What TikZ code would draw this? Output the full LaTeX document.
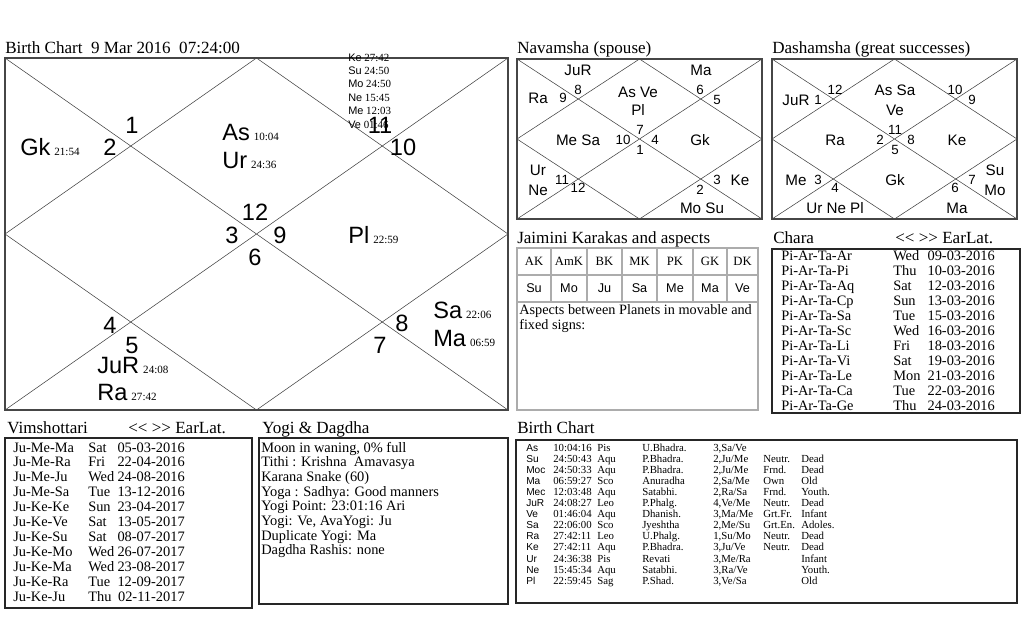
\documentclass[tikz,border=0pt]{standalone}
\usepackage{fontspec}
\setmainfont{Liberation Serif}
\newfontfamily\arialfont{Liberation Sans}
\usetikzlibrary{positioning}

\newcommand{\bigpl}[2]{{\fontsize{17.7}{18}\arialfont #1}\hspace{3pt}{\fontsize{8.3}{9}\selectfont #2}}
\newcommand{\earlat}{\textless\kern0pt\textless\ \textgreater\kern0pt\textgreater\ EarLat.}

\begin{document}
\begin{tikzpicture}[
    x=0.75pt, y=-0.75pt,
    frame/.style={draw=gray!55!black, line width=1.5pt},
    panel/.style={draw=gray!30!black, line width=0.9pt},
    cellline/.style={draw=gray!65, line width=0.9pt},
    chartline/.style={draw=black!75, line width=0.4pt},
    title/.style={anchor=base west, inner sep=0pt, font=\fontsize{12.8}{14}\selectfont},
    housenum/.style={inner sep=0pt, font=\fontsize{17.7}{18}\arialfont},
    planet/.style={anchor=base west, inner sep=0pt},
    stackpl/.style={anchor=base west, inner sep=0pt, font=\fontsize{8.2}{9}\selectfont},
    divtext/.style={inner sep=0pt, font=\fontsize{11.4}{12}\arialfont},
    divnum/.style={inner sep=0pt, font=\fontsize{10}{11}\arialfont},
    listtext/.style={anchor=base west, inner sep=0pt, font=\fontsize{10.8}{12}\selectfont},
    tabletext/.style={anchor=base west, inner sep=0pt, font=\fontsize{8.1}{9}\selectfont},
    tablename/.style={anchor=base west, inner sep=0pt, font=\fontsize{7.6}{8}\arialfont}
  ]
  \fill[white] (0,0) rectangle (1024,640);
  \useasboundingbox (0,0) rectangle (1024,640);

  % Titles
  \node[title] (rasi-title) at (5,53) {Birth Chart\ \ 9 Mar 2016\ \ 07:24:00};
  \node[title] (nav-title) at (517,53) {Navamsha (spouse)};
  \node[title] (das-title) at (772,53) {Dashamsha (great successes)};
  \node[title] (jai-title) at (517,243) {Jaimini Karakas and aspects};
  \node[title] (chara-title) at (773,243) {Chara};
  \node[title] (chara-nav) at (895,243) {\earlat};
  \node[title] (vim-title) at (7,433) {Vimshottari};
  \node[title] (vim-nav) at (128,433) {\earlat};
  \node[title] (yogi-title) at (262,433) {Yogi \& Dagdha};
  \node[title] (tab-title) at (517,433) {Birth Chart};

  % Chart grids
  \foreach \c/\xa/\ya/\xb/\yb in {rasi/5/58/508/410, nav/517/59/762/219, das/772/59/1017/219} {
    \coordinate (\c-nw) at (\xa,\ya);
    \coordinate (\c-ne) at (\xb,\ya);
    \coordinate (\c-se) at (\xb,\yb);
    \coordinate (\c-sw) at (\xa,\yb);
    \coordinate (\c-n) at ({(\xa+\xb)/2},\ya);
    \coordinate (\c-e) at (\xb,{(\ya+\yb)/2});
    \coordinate (\c-s) at ({(\xa+\xb)/2},\yb);
    \coordinate (\c-w) at (\xa,{(\ya+\yb)/2});
    \draw[chartline] (\c-nw) -- (\c-se) (\c-ne) -- (\c-sw);
    \draw[chartline] (\c-n) -- (\c-e) -- (\c-s) -- (\c-w) -- cycle;
    \draw[frame] (\c-nw) rectangle (\c-se);
  }

  % Rasi chart
  \foreach \h/\px/\py in {1/132/125, 2/110/147, 3/232/235, 4/110/325, 5/132/345, 6/255/257,
      7/380/345, 8/402/323, 9/280/235, 10/403/147, 11/380/125, 12/255/212}
    \node[housenum] (rasi-h\h) at (\px,\py) {\h};
  \node[planet] (rasi-gk) at (20,155) {\bigpl{Gk}{21:54}};
  \node[planet] (rasi-as) at (222,140) {\bigpl{As}{10:04}};
  \node[planet] (rasi-ur) at (222,168) {\bigpl{Ur}{24:36}};
  \node[planet] (rasi-pl) at (348,243) {\bigpl{Pl}{22:59}};
  \node[planet] (rasi-ju) at (97,373) {\bigpl{JuR}{24:08}};
  \node[planet] (rasi-ra) at (97,400) {\bigpl{Ra}{27:42}};
  \node[planet] (rasi-sa) at (433,318) {\bigpl{Sa}{22:06}};
  \node[planet] (rasi-ma) at (433,346) {\bigpl{Ma}{06:59}};
  \foreach \p/\d [count=\i from 0] in {Ke/27:42, Su/24:50, Mo/24:50, Ne/15:45, Me/12:03, Ve/01:46}
    \node[stackpl] (rasi-s\i) at (348,{61+13.4*\i}) {{\arialfont\p} \d};

  % Navamsha
  \foreach \n/\px/\py/\t in {ju/578/70/JuR, ra/538/98/Ra, asve/638/92/As Ve, pl/638/110/Pl,
      ma/701/70/Ma, mesa/578/140/Me Sa, gk/700/140/Gk, ur/538/170/Ur, ne/538/190/Ne,
      ke/740/180/Ke, mosu/702/208/Mo Su}
    \node[divtext] (nav-\n) at (\px,\py) {\t};
  \foreach \h/\px/\py in {1/640/150, 2/700/190, 3/717/180, 4/655/140, 5/717/100, 6/700/90,
      7/640/130, 8/578/90, 9/563/98, 10/623/140, 11/562/180, 12/578/188}
    \node[divnum] (nav-h\h) at (\px,\py) {\h};

  % Dashamsha
  \foreach \n/\px/\py/\t in {ju/796/100/JuR, assa/895/90/As Sa, ve/895/110/Ve, ra/835/140/Ra,
      ke/957/140/Ke, me/796/180/Me, gk/895/180/Gk, su/995/170/Su, mo/995/190/Mo,
      urnepl/835/208/Ur Ne Pl, ma/957/208/Ma}
    \node[divtext] (das-\n) at (\px,\py) {\t};
  \foreach \h/\px/\py in {1/818/100, 2/880/140, 3/818/180, 4/835/188, 5/895/150, 6/955/188,
      7/972/180, 8/911/140, 9/972/100, 10/955/90, 11/895/130, 12/835/90}
    \node[divnum] (das-h\h) at (\px,\py) {\h};

  % Jaimini karakas
  \draw[cellline] (517,248) rectangle (758,410);
  \draw[cellline] (517,275) -- (758,275) (517,302) -- (758,302);
  \foreach \x in {551,587,622,657,693,727}
    \draw[cellline] (\x,248) -- (\x,302);
  \foreach \px/\k/\p in {534/AK/Su, 569/AmK/Mo, 604.5/BK/Ju, 639.5/MK/Sa, 675/PK/Me, 710/GK/Ma, 742.5/DK/Ve} {
    \node[inner sep=0pt, font=\fontsize{9.5}{10}\selectfont] (jai-\k) at (\px,261.5) {\k};
    \node[inner sep=0pt, font=\fontsize{9.5}{10}\arialfont] (jai-\k-pl) at (\px,288.5) {\p};
  }
  \node[listtext, font=\fontsize{10.7}{12}\selectfont] (jai-asp1) at (519,314) {Aspects between Planets in movable and};
  \node[listtext, font=\fontsize{10.7}{12}\selectfont] (jai-asp2) at (519,329) {fixed signs:};

  % Chara dasha
  \draw[panel] (772,249) rectangle (1020,413);
  \foreach \s/\dd/\dt [count=\i from 0] in {Ar/Wed/09-03-2016, Pi/Thu/10-03-2016, Aq/Sat/12-03-2016,
      Cp/Sun/13-03-2016, Sa/Tue/15-03-2016, Sc/Wed/16-03-2016, Li/Fri/18-03-2016, Vi/Sat/19-03-2016,
      Le/Mon/21-03-2016, Ca/Tue/22-03-2016, Ge/Thu/24-03-2016} {
    \node[listtext] (chara-\i) at (781,{260+15*\i}) {Pi-Ar-Ta-\s};
    \node[listtext] (chara-\i-day) at (893,{260+15*\i}) {\dd};
    \node[listtext, anchor=base east] (chara-\i-date) at (995,{260+15*\i}) {\dt};
  }

  % Vimshottari dasha
  \draw[panel] (5,438) rectangle (252,608);
  \foreach \s/\dd/\dt [count=\i from 0] in {Me-Ma/Sat/05-03-2016, Me-Ra/Fri/22-04-2016, Me-Ju/Wed/24-08-2016,
      Me-Sa/Tue/13-12-2016, Ke-Ke/Sun/23-04-2017, Ke-Ve/Sat/13-05-2017, Ke-Su/Sat/08-07-2017,
      Ke-Mo/Wed/26-07-2017, Ke-Ma/Wed/23-08-2017, Ke-Ra/Tue/12-09-2017, Ke-Ju/Thu/02-11-2017} {
    \node[listtext] (vim-\i) at (13,{452+14.96*\i}) {Ju-\s};
    \node[listtext] (vim-\i-day) at (88,{452+14.96*\i}) {\dd};
    \node[listtext, anchor=base east] (vim-\i-date) at (185,{452+14.96*\i}) {\dt};
  }

  % Yogi & Dagdha
  \draw[panel] (259,438) rectangle (508,604);
  \foreach \t [count=\i from 0] in {{Moon in waning, 0\% full}, {Tithi : Krishna\ \ Amavasya},
      {Karana Snake (60)}, {Yoga : Sadhya: Good manners}, {Yogi Point: 23:01:16 Ari},
      {Yogi: Ve, AvaYogi: Ju}, {Duplicate Yogi: Ma}, {Dagdha Rashis: none}}
    \node[listtext] (yogi-\i) at (261,{452+14.7*\i}) {\t};

  % Birth chart table
  \draw[panel] (516,440) rectangle (1017,603);
  \foreach \n/\t/\s/\k/\pn/\pa/\pb/\r/\a [count=\i from 0] in {
      As/10:04:16/Pis/U.Bhadra./3/Sa/Ve/{}/{},
      Su/24:50:43/Aqu/P.Bhadra./2/Ju/Me/Neutr./Dead,
      Moc/24:50:33/Aqu/P.Bhadra./2/Ju/Me/Frnd./Dead,
      Ma/06:59:27/Sco/Anuradha/2/Sa/Me/Own/Old,
      Mec/12:03:48/Aqu/Satabhi./2/Ra/Sa/Frnd./Youth.,
      JuR/24:08:27/Leo/P.Phalg./4/Ve/Me/Neutr./Dead,
      Ve/01:46:04/Aqu/Dhanish./3/Ma/Me/Grt.Fr./Infant,
      Sa/22:06:00/Sco/Jyeshtha/2/Me/Su/Grt.En./Adoles.,
      Ra/27:42:11/Leo/U.Phalg./1/Su/Mo/Neutr./Dead,
      Ke/27:42:11/Aqu/P.Bhadra./3/Ju/Ve/Neutr./Dead,
      Ur/24:36:38/Pis/Revati/3/Me/Ra/{}/Infant,
      Ne/15:45:34/Aqu/Satabhi./3/Ra/Ve/{}/Youth.,
      Pl/22:59:45/Sag/P.Shad./3/Ve/Sa/{}/Old} {
    \node[tablename] (tab-\i) at (526,{451+11.1*\i}) {\n};
    \node[tabletext] (tab-\i-deg) at (553,{451+11.1*\i}) {\t};
    \node[tabletext] (tab-\i-sign) at (597,{451+11.1*\i}) {\s};
    \node[tabletext] (tab-\i-nak) at (642,{451+11.1*\i}) {\k};
    \node[tabletext] (tab-\i-pada) at (713,{451+11.1*\i}) {\pn,\pa/\pb};
    \node[tabletext] (tab-\i-rel) at (763,{451+11.1*\i}) {\r};
    \node[tabletext] (tab-\i-age) at (801,{451+11.1*\i}) {\a};
  }

\end{tikzpicture}
\end{document}
